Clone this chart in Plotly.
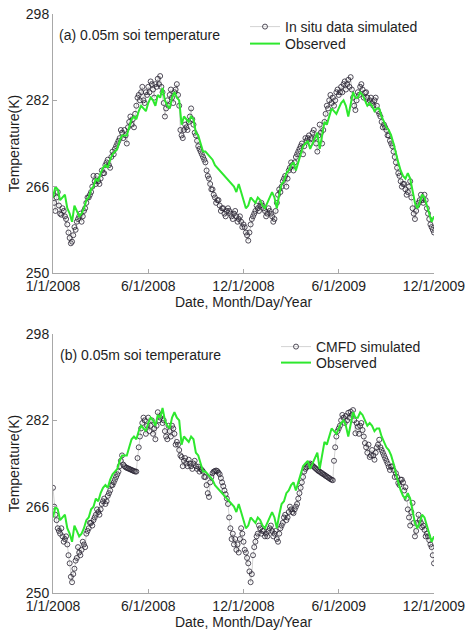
import numpy as np
import plotly.graph_objects as go

# ---------------- data ----------------
tick_labels = ["1/1/2008", "6/1/2008", "12/1/2008", "6/1/2009", "12/1/2009"]
y_ticks = [250, 266, 282, 298]

observed = [
    264.0, 266.0, 265.5, 263.5, 264.0, 264.5, 262.0, 261.0, 259.5, 262.5,
    261.5, 260.5, 261.0, 262.0, 263.5, 264.0, 265.5, 266.0, 267.5, 267.0,
    268.5, 269.5, 270.0, 269.5, 271.0, 272.0, 272.5, 273.0, 274.5, 275.5,
    275.5, 275.5, 277.0, 278.5, 279.0, 278.5, 280.0, 281.0, 280.5, 280.0,
    281.5, 282.5, 282.0, 281.0, 283.0, 282.5, 284.3, 282.0, 281.0, 280.5,
    282.5, 283.5, 282.5, 282.0, 277.5, 279.0, 278.5, 278.0, 279.0, 278.5,
    276.0, 275.5, 274.0, 272.5, 272.5, 272.0, 271.5, 271.0, 270.0, 269.5,
    269.0, 268.5, 268.0, 267.5, 267.0, 266.5, 266.0, 265.0, 266.5, 265.0,
    263.5, 262.0, 262.5, 264.0, 263.5, 263.0, 264.0, 263.5, 262.5, 262.0,
    263.0, 264.0, 265.0, 264.0, 262.0, 264.5, 266.5, 267.0, 268.5, 269.0,
    270.0, 270.5, 269.0, 270.5, 272.2, 273.5, 274.0, 274.5, 273.0, 274.0,
    275.0, 276.0, 273.0, 275.5, 278.0, 277.5, 279.0, 280.5, 280.0, 279.5,
    280.5, 281.5, 282.0, 281.0, 279.0, 281.5, 283.5, 282.5, 282.5, 283.5,
    283.0, 282.0, 281.0, 281.5, 281.0, 280.0, 280.5, 280.5, 279.0, 278.0,
    277.0, 276.5, 275.5, 274.0, 272.0, 270.5, 269.0, 268.0, 267.5, 268.5,
    267.5, 265.5, 263.0, 262.0, 263.0, 264.5, 264.0, 262.5, 261.0, 259.5,
    260.5,
]

insitu_sim = [
    264.5, 263.0, 261.5, 264.0, 265.0, 262.5, 261.0, 260.8, 262.0, 261.5,
    260.5, 260.0, 259.0, 257.5, 256.5, 255.5, 255.8, 257.0, 258.5, 258.0,
    259.5, 260.0, 260.5, 261.0, 259.5, 260.5, 261.5, 262.0, 263.0, 264.0,
    264.0, 264.5, 265.0, 266.0, 268.0, 267.0, 266.5, 268.0, 267.0, 266.5,
    267.5, 269.0, 268.5, 268.5, 270.0, 270.5, 271.0, 270.0, 269.5, 271.5,
    272.5, 272.0, 273.0, 273.5, 274.0, 274.5, 275.0, 276.5, 276.0, 275.0,
    276.5, 275.5, 274.0, 277.0, 278.0, 279.0, 277.5, 278.5, 277.0, 279.5,
    281.0, 282.5, 283.0, 282.0, 283.5, 284.5, 282.0, 281.5, 283.5, 283.0,
    284.5, 283.5, 285.5, 285.0, 284.0, 282.5, 285.0, 284.5, 286.0, 285.0,
    286.5, 284.5, 283.5, 281.5, 279.0, 280.5, 282.0, 281.0, 283.0, 284.0,
    282.5, 281.5, 283.5, 284.0, 285.0, 283.0, 281.0, 276.5, 275.5, 275.0,
    276.5, 277.5, 277.0, 276.5, 278.0, 279.0, 280.5, 278.5, 277.5, 276.0,
    275.5, 274.5, 273.5, 273.0, 272.5, 272.0, 271.5, 271.0, 270.5, 269.0,
    268.0, 267.5, 266.5, 265.5, 265.5, 264.5, 264.0, 263.0, 263.5, 263.5,
    262.5, 261.5, 262.0, 262.0, 261.0, 260.5, 261.5, 262.0, 261.5, 261.0,
    260.5, 260.0, 261.0, 261.5, 260.5, 259.5, 260.0, 260.5, 259.5, 258.5,
    259.0, 258.5, 257.5, 257.0, 256.0, 257.5, 259.0, 260.0, 260.5, 261.0,
    261.5, 262.5, 262.0, 261.5, 262.5, 263.0, 262.5, 262.0, 261.5, 260.5,
    261.0, 262.0, 261.5, 261.0, 260.5, 259.5, 260.0, 261.5, 263.0, 264.5,
    265.5, 265.0, 266.0, 267.0, 267.5, 268.0, 266.0, 267.5, 269.0, 269.5,
    270.5, 270.0, 269.0, 270.5, 271.5, 272.0, 272.5, 273.0, 273.5, 274.0,
    272.0, 273.5, 275.0, 274.5, 275.0, 275.5, 274.0, 275.0, 276.0, 276.5,
    275.0, 274.0, 272.5, 275.5, 277.5, 276.0, 274.0, 276.5, 278.0, 279.5,
    281.0, 280.5, 282.0, 283.0, 281.5, 282.5, 281.0, 282.0, 283.5, 284.0,
    283.0, 283.5, 284.5, 283.5, 285.0, 285.5, 284.0, 285.0, 285.8, 284.5,
    286.3, 284.0, 282.5, 281.0, 280.2, 282.0, 283.5, 283.0, 284.5, 285.0,
    284.0, 282.5, 283.4, 283.5, 282.5, 281.5, 282.0, 282.5, 281.5, 281.0,
    282.0, 282.5, 281.0, 280.0, 279.5, 279.0, 278.0, 277.0, 277.5, 277.0,
    276.5, 275.5, 275.5, 274.5, 274.0, 273.5, 272.5, 271.5, 270.5, 269.5,
    268.5, 268.0, 267.0, 266.0, 266.5, 266.5, 265.5, 264.5, 265.0, 266.0,
    267.0, 264.0, 262.0, 261.0, 260.0, 261.5, 262.5, 263.0, 263.5, 264.5,
    263.5, 263.0, 264.5, 263.5, 262.0, 261.0, 260.0, 259.0, 258.5, 258.0,
    257.5,
]

cmfd_sim = [
    269.5, 266.0, 264.5, 263.5, 262.0, 261.5, 261.0, 262.0, 260.5, 259.5,
    260.0, 260.5, 259.0, 257.0, 255.5, 253.0, 252.0, 253.5, 254.5, 256.0,
    256.5, 258.5, 257.5, 257.0, 258.0, 259.5, 259.0, 258.5, 261.0, 261.5,
    262.0, 263.0, 263.0, 262.5, 263.5, 264.0, 264.5, 265.5, 265.0, 264.5,
    265.5, 266.5, 267.0, 267.5, 266.5, 267.0, 268.0, 268.5, 269.0, 270.0,
    270.0, 270.5, 271.0, 271.5, 272.0, 272.5, 273.5, 274.5, 275.5, 273.8,
    273.5, 273.3, 273.2, 273.1, 273.0, 272.9, 272.8, 272.7, 272.6, 272.5,
    272.5, 275.0, 277.0, 279.0, 280.5, 281.5, 282.5, 282.0, 279.5, 281.0,
    282.5, 280.0, 281.0, 282.0, 279.5, 280.5, 278.5, 281.0, 283.5, 282.0,
    282.5, 283.0, 281.5, 282.0, 280.0, 279.0, 278.5, 281.0, 280.0, 279.0,
    281.0, 280.5, 279.5, 277.5, 278.0, 277.5, 276.5, 275.5, 275.2, 273.5,
    274.5, 275.0, 274.0, 273.5, 274.7, 274.0, 273.5, 273.0, 274.0, 274.5,
    273.5, 273.0, 273.4, 272.5, 273.0, 272.8, 272.5, 271.5, 271.5, 270.0,
    268.5, 267.8, 270.5, 271.5, 272.2, 272.5, 272.6, 272.7, 272.6, 272.3,
    272.0, 271.3, 270.5, 269.8, 269.0, 268.3, 267.5, 266.5, 264.0, 262.0,
    260.0, 261.0, 259.0, 260.0, 258.0, 259.0, 257.5, 260.0, 262.0, 261.0,
    259.5, 258.0, 257.5, 256.5, 255.5, 254.0, 252.0, 253.5, 257.0, 258.5,
    259.5, 260.5, 261.0, 262.5, 262.0, 261.0, 261.5, 261.5, 260.5, 261.0,
    260.5, 261.5, 262.0, 262.5, 261.5, 260.5, 261.0, 261.5, 260.0, 259.5,
    261.0, 262.0, 262.5, 263.0, 264.0, 264.5, 263.5, 264.0, 265.0, 266.0,
    265.5, 265.0, 264.8, 265.5, 266.0, 266.5, 267.5, 268.5, 269.5, 270.5,
    271.5, 272.5, 273.0, 273.3, 273.5, 273.8, 274.0, 273.8, 273.6, 273.4,
    273.2, 273.0, 272.8, 272.6, 272.5, 272.3, 272.2, 272.0, 271.9, 271.7,
    271.6, 271.4, 271.3, 271.1, 271.0, 270.9, 274.5, 277.0, 279.0, 280.0,
    280.5, 281.0, 282.0, 283.0, 282.5, 281.5, 282.8, 282.0, 283.4, 282.5,
    283.6, 283.0, 283.9, 282.0, 279.6, 281.5, 280.8, 279.5, 281.0, 281.5,
    280.2, 279.0, 277.8, 277.0, 276.0, 277.5, 275.2, 275.5, 276.5, 275.5,
    274.7, 276.0, 277.0, 277.5, 278.4, 277.0, 276.5, 276.0, 275.5, 275.0,
    274.5, 274.0, 273.4, 272.8, 273.4, 273.5, 272.8, 271.5, 272.2, 271.5,
    270.4, 270.0, 271.0, 271.0, 270.5, 269.0, 269.6, 267.5, 265.5, 264.0,
    262.5, 265.0, 266.7, 263.0, 260.5, 261.5, 263.0, 264.5, 263.5, 263.0,
    262.2, 262.5, 261.7, 260.5, 261.0, 260.5, 259.8, 259.0, 258.5, 257.0,
    255.5,
]

# ---------------- positions (sample index) ----------------
n_sim = len(insitu_sim)
sim_x = np.arange(n_sim)
obs_x = np.arange(len(observed)) * (n_sim - 1) / (len(observed) - 1)
tick_pos = np.linspace(0, n_sim - 1, len(tick_labels))

W, H = 469, 631
FONT = "Liberation Sans, Arial, sans-serif"
GREEN = "#2ee82e"
TXT = "#1e1e1e"


def px_x(p):
    return p / W


def px_y(p):
    return 1 - p / H


sim_marker = dict(symbol="circle-open", size=5, color="rgba(40,35,50,0.8)",
                  line=dict(width=1))
sim_line = dict(color="rgba(150,150,150,0.6)", width=0.7)

fig = go.Figure()

fig.add_trace(go.Scatter(x=sim_x, y=insitu_sim, mode="lines+markers",
                         name="In situ data simulated", marker=sim_marker,
                         line=sim_line, xaxis="x", yaxis="y", legend="legend",
                         showlegend=True))
fig.add_trace(go.Scatter(x=obs_x, y=observed, mode="lines", name="Observed",
                         line=dict(color=GREEN, width=2), xaxis="x", yaxis="y",
                         legend="legend3", showlegend=True))
fig.add_trace(go.Scatter(x=sim_x, y=cmfd_sim, mode="lines+markers",
                         name="CMFD simulated", marker=sim_marker,
                         line=sim_line, xaxis="x2", yaxis="y2", legend="legend2",
                         showlegend=True))
fig.add_trace(go.Scatter(x=obs_x, y=observed, mode="lines", name="Observed",
                         line=dict(color=GREEN, width=2), xaxis="x2", yaxis="y2",
                         legend="legend4", showlegend=True))

axis_common = dict(showline=True, linecolor="#a8a8a8", linewidth=1,
                   ticks="inside", ticklen=4, tickcolor="#a8a8a8",
                   showgrid=False, zeroline=False, automargin=False,
                   ticklabeloverflow="allow",
                   tickfont=dict(size=14, color=TXT, family=FONT))

xdom = [px_x(53), px_x(434)]
xaxis_cfg = dict(axis_common, range=[0, n_sim - 1], tickmode="array",
                 tickvals=tick_pos, ticktext=tick_labels, ticklabelstandoff=0,
                 title=dict(text="Date, Month/Day/Year", standoff=0,
                            font=dict(size=14, color=TXT, family=FONT)),
                 domain=xdom)
yaxis_cfg = dict(axis_common, range=[250, 298], tickmode="array",
                 tickvals=y_ticks,
                 title=dict(text="Temperature(K)", standoff=2,
                            font=dict(size=14, color=TXT, family=FONT)))


def leg(xp, yp):
    return dict(x=px_x(xp), y=px_y(yp), xanchor="left", yanchor="top",
                bgcolor="rgba(0,0,0,0)", itemwidth=30, tracegroupgap=0,
                font=dict(size=14, color=TXT, family=FONT))


fig.update_layout(
    width=W, height=H,
    showlegend=True,
    margin=dict(l=0, r=0, t=0, b=0, autoexpand=False),
    paper_bgcolor="white", plot_bgcolor="white",
    font=dict(family=FONT, size=14, color=TXT),
    xaxis=dict(xaxis_cfg, anchor="y"),
    yaxis=dict(yaxis_cfg, domain=[px_y(273), px_y(14)], anchor="x"),
    xaxis2=dict(xaxis_cfg, anchor="y2"),
    yaxis2=dict(yaxis_cfg, domain=[px_y(593), px_y(334)], anchor="x2"),
    legend=leg(245, 11),
    legend3=leg(245, 28),
    legend2=leg(276, 331),
    legend4=leg(276, 347),
    annotations=[
        dict(text="(a) 0.05m soi temperature", x=px_x(57), y=px_y(35),
             xref="paper", yref="paper", xanchor="left", yanchor="middle",
             showarrow=False, font=dict(size=14, color=TXT, family=FONT)),
        dict(text="(b) 0.05m soi temperature", x=px_x(58), y=px_y(355),
             xref="paper", yref="paper", xanchor="left", yanchor="middle",
             showarrow=False, font=dict(size=14, color=TXT, family=FONT)),
    ],
)

fig.write_html("out.html",
               config={"displayModeBar": False},
               post_script="document.body.style.margin='0px';"
                           "document.body.style.overflow='hidden';")
